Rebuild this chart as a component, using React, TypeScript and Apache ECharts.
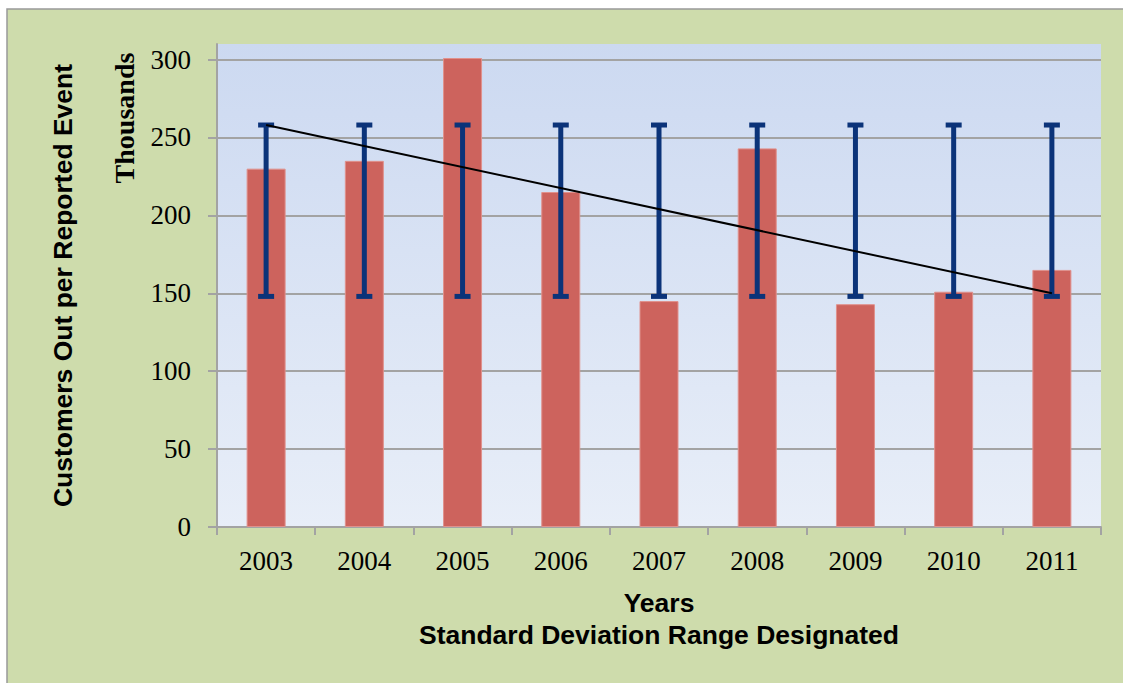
import React, { useEffect, useRef } from "react";
import * as echarts from "echarts";

const years = ["2003", "2004", "2005", "2006", "2007", "2008", "2009", "2010", "2011"];
const customersOut = [230, 235, 301, 215, 145, 243, 143, 151, 165];
const sdLow = [148, 148, 148, 148, 148, 148, 148, 148, 148];
const sdHigh = [258, 258, 258, 258, 258, 258, 258, 258, 258];
const trend = [258, "-", "-", "-", "-", "-", "-", "-", 150];

export default function App() {
  const ref = useRef<HTMLDivElement>(null);
  useEffect(() => {
    if (!ref.current) return;
    const chart = echarts.init(ref.current, null, { renderer: "svg" });
    const grey = "#a3a3a3";
    const splitColors = [grey, grey, grey, grey, grey, grey, grey, "rgba(0,0,0,0)"];
    chart.setOption({
      animation: false,
      backgroundColor: "#ffffff",
      graphic: [
        {
          type: "rect",
          z: -10,
          shape: { x: 7, y: 9, width: 1130, height: 690 },
          style: { fill: "#cedcac", stroke: "#999999", lineWidth: 1.5 },
        },
        {
          type: "text",
          x: 124,
          y: 118,
          rotation: Math.PI / 2,
          style: {
            text: "Thousands",
            font: "bold 28px 'Liberation Serif'",
            fill: "#000",
            align: "center",
            verticalAlign: "middle",
          },
        },
      ],
      grid: {
        left: 217,
        top: 44,
        right: 22,
        bottom: 156,
        show: true,
        borderWidth: 0,
        backgroundColor: new echarts.graphic.LinearGradient(0, 0, 0, 1, [
          { offset: 0, color: "#ccd9f1" },
          { offset: 1, color: "#e8eef8" },
        ]),
      },
      xAxis: {
        type: "category",
        data: years,
        boundaryGap: true,
        name: "Years\nStandard Deviation Range Designated",
        nameLocation: "middle",
        nameGap: 60,
        nameTextStyle: {
          fontFamily: "'Liberation Sans', Arial, sans-serif",
          fontWeight: "bold",
          fontSize: 26.5,
          lineHeight: 32,
          color: "#000",
        },
        axisLine: { show: true, lineStyle: { color: grey, width: 2 } },
        axisTick: { show: true, alignWithLabel: false, length: 8, lineStyle: { color: grey, width: 2 } },
        axisLabel: {
          margin: 20,
          fontFamily: "'Liberation Serif', serif",
          fontSize: 27,
          color: "#000",
        },
        splitLine: { show: false },
      },
      yAxis: {
        type: "value",
        min: 0,
        max: 310,
        interval: 50,
        name: "Customers Out per Reported Event",
        nameLocation: "middle",
        nameGap: 141,
        nameTextStyle: {
          fontFamily: "'Liberation Sans', Arial, sans-serif",
          fontWeight: "bold",
          fontSize: 26.5,
          color: "#000",
        },
        axisLine: { show: true, lineStyle: { color: grey, width: 2 } },
        axisTick: { show: true, length: 9, lineStyle: { color: grey, width: 2 } },
        axisLabel: {
          margin: 26,
          showMaxLabel: false,
          fontFamily: "'Liberation Serif', serif",
          fontSize: 27,
          color: "#000",
        },
        splitLine: { show: true, lineStyle: { color: splitColors, width: 2 } },
      },
      series: [
        {
          type: "bar",
          data: customersOut,
          barWidth: 39,
          itemStyle: { color: "#cd635d", borderColor: "#e0918c", borderWidth: 1 },
          z: 2,
        },
        {
          type: "custom",
          z: 3,
          data: years.map((_, i) => [i, sdLow[i], sdHigh[i]]),
          renderItem: (params: any, api: any) => {
            const i = api.value(0);
            const lo = api.coord([i, api.value(1)]);
            const hi = api.coord([i, api.value(2)]);
            const color = "#0b3379";
            return {
              type: "group",
              children: [
                {
                  type: "rect",
                  shape: { x: lo[0] - 2.5, y: hi[1], width: 5, height: lo[1] - hi[1] },
                  style: { fill: color },
                },
                {
                  type: "rect",
                  shape: { x: hi[0] - 8, y: hi[1] - 2.5, width: 16, height: 5 },
                  style: { fill: color },
                },
                {
                  type: "rect",
                  shape: { x: lo[0] - 8, y: lo[1] - 2.5, width: 16, height: 5 },
                  style: { fill: color },
                },
              ],
            };
          },
        },
        {
          type: "line",
          data: trend,
          connectNulls: true,
          symbol: "none",
          z: 4,
          lineStyle: { color: "#000", width: 2 },
        },
      ],
    });
    return () => chart.dispose();
  }, []);
  return (
    <div
      ref={ref}
      style={{ position: "fixed", left: 0, top: 0, width: 1123, height: 683 }}
    />
  );
}
